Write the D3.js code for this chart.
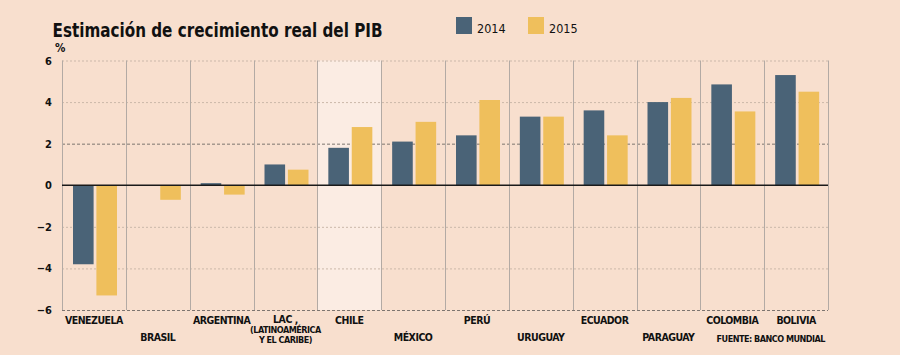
<!DOCTYPE html>
<html><head><meta charset="utf-8">
<script src="https://cdn.jsdelivr.net/npm/d3@7"></script>
<style>
html,body{margin:0;padding:0;background:#f8dfce;}
svg{display:block;}
text{font-family:"DejaVu Sans Condensed","DejaVu Sans",sans-serif;font-weight:bold;fill:#111;}
</style></head>
<body>
<script>
const categories = ["VENEZUELA","BRASIL","ARGENTINA","LAC","CHILE","MÉXICO","PERÚ","URUGUAY","ECUADOR","PARAGUAY","COLOMBIA","BOLIVIA"];
const years = ["2014","2015"];
const values2014 = [-3.8, 0, 0.1, 1.0, 1.8, 2.1, 2.4, 3.3, 3.6, 4.0, 4.85, 5.3];
const values2015 = [-5.3, -0.7, -0.45, 0.75, 2.8, 3.05, 4.1, 3.3, 2.4, 4.2, 3.55, 4.5];
const yTicks = [6, 4, 2, 0, -2, -4, -6];
const labelLines = [["VENEZUELA"],["BRASIL"],["ARGENTINA"],["LAC ,","(LATINOAMÉRICA","Y EL CARIBE)"],["CHILE"],["MÉXICO"],["PERÚ"],["URUGUAY"],["ECUADOR"],["PARAGUAY"],["COLOMBIA"],["BOLIVIA"]];
const labelRows = [0,1,0,0,0,1,0,1,0,1,0,0];
const highlight = "CHILE";
const title = "Estimación de crecimiento real del PIB";
const source = "FUENTE: BANCO MUNDIAL";

const W = 900, H = 355;
const colors = {"2014":"#4a6377","2015":"#efbf5c"};
const svg = d3.select("body").append("svg").attr("width",W).attr("height",H);
svg.append("rect").attr("width",W).attr("height",H).attr("fill","#f8dfce");

const x0 = d3.scaleBand().domain(categories).range([62, 828]).padding(0);
const x1 = d3.scaleBand().domain(years).range([11, 55]).paddingInner(0.12);
const y = d3.scaleLinear().domain([-6, 6]).range([310, 60.5]);

// highlight band
svg.append("rect").attr("x", x0(highlight)).attr("y", y(6)).attr("width", x0.bandwidth()).attr("height", y(-6)-y(6)).attr("fill","#fbece3");

// gridlines
const grid = svg.append("g");
yTicks.filter(t=>t!==0).forEach(t=>{
  const dark = (t===2 || t===-6);
  grid.append("line").attr("x1",62).attr("x2",828).attr("y1",y(t)+0.5).attr("y2",y(t)+0.5)
    .attr("stroke", dark ? "#7d7570" : "#cbb8aa").attr("stroke-width",1)
    .attr("stroke-dasharray", dark ? "3,2" : "2,2");
});
// vertical separators
const seps = categories.map(c=>x0(c)).concat([828]);
svg.append("g").selectAll("line").data(seps).join("line")
  .attr("x1",d=>Math.round(d)+0.5).attr("x2",d=>Math.round(d)+0.5).attr("y1",y(6)).attr("y2",y(-6))
  .attr("stroke","#b3aaa4").attr("stroke-width",1);

// bars
const data = categories.map((c,i)=>({c, vals:[{k:"2014",v:values2014[i]},{k:"2015",v:values2015[i]}]}));
const g = svg.append("g").selectAll("g").data(data).join("g").attr("transform",d=>`translate(${x0(d.c)},0)`);
g.selectAll("rect").data(d=>d.vals.filter(e=>e.v!==0)).join("rect")
  .attr("x",d=>x1(d.k)).attr("width",x1.bandwidth())
  .attr("y",d=>y(Math.max(0,d.v))).attr("height",d=>Math.abs(y(d.v)-y(0)))
  .attr("fill",d=>colors[d.k]);

// zero line
svg.append("line").attr("x1",62).attr("x2",828).attr("y1",y(0)).attr("y2",y(0)).attr("stroke","#1a1a1a").attr("stroke-width",1.6);

// y axis labels
const yAxis = d3.axisLeft(y).tickValues(yTicks).tickSize(0).tickPadding(0).tickFormat(d3.format("d"));
const ya = svg.append("g").attr("transform","translate(52,0)").call(yAxis);
ya.select(".domain").remove();
ya.selectAll("text").attr("font-size",11).attr("fill","#111").style("font-family","'DejaVu Sans Condensed',sans-serif").style("font-weight","bold");
svg.append("text").attr("x",55).attr("y",52).attr("font-size",11.5).text("%");

// title
svg.append("text").attr("x",52.5).attr("y",36.5).attr("font-size",20).attr("textLength",330).attr("lengthAdjust","spacingAndGlyphs").text(title);

// legend
years.forEach((yr,i)=>{
  const lx = 456 + i*72;
  svg.append("rect").attr("x",lx).attr("y",17).attr("width",16).attr("height",17).attr("fill",colors[yr]);
  svg.append("text").attr("x",lx+21).attr("y",33).attr("font-size",12.5).style("font-weight","normal").style("font-family","'DejaVu Sans Condensed',sans-serif").text(yr);
});

// category labels
const lab = svg.append("g");
categories.forEach((c,i)=>{
  const cx = x0(c) + x0.bandwidth()/2;
  const lines = labelLines[i];
  if (lines.length > 1) {
    lines.forEach((l,j)=>{
      lab.append("text").attr("x",cx).attr("y",323 + j*10).attr("text-anchor","middle")
        .attr("font-size", j===0 ? 10.5 : 9).attr("letter-spacing",-0.5).text(l);
    });
  } else {
    lab.append("text").attr("x",cx).attr("y", labelRows[i]===0 ? 324 : 341).attr("text-anchor","middle")
      .attr("font-size",10.5).attr("letter-spacing",-0.5).text(lines[0]);
  }
});
svg.append("text").attr("x",825).attr("y",342).attr("text-anchor","end").attr("font-size",9).attr("letter-spacing",-0.5).text(source);
</script>
</body></html>
